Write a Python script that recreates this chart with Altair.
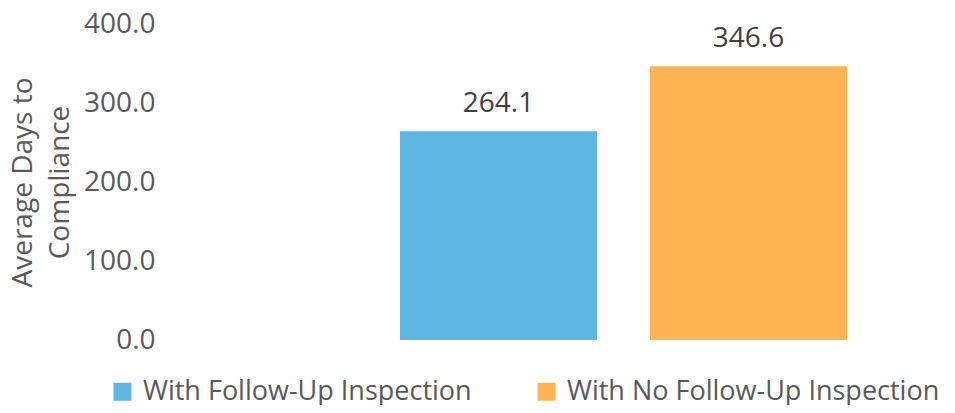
import altair as alt
import pandas as pd

categories = ["With Follow-Up Inspection", "With No Follow-Up Inspection"]
values = [264.1, 346.6]
colors = ["#5EB6E3", "#FFB453"]
y_ticks = [0, 100, 200, 300, 400]

df = pd.DataFrame({"cat": categories, "val": values})

FONT = "Open Sans"
GRAY = "#595959"

x_enc = alt.X("cat:N", axis=None, sort=categories,
              scale=alt.Scale(domain=categories, paddingInner=0.212,
                              paddingOuter=0.606, align=0.759))
y_enc = alt.Y("val:Q",
              scale=alt.Scale(domain=[0, 400], nice=False),
              axis=alt.Axis(values=y_ticks, format=".1f", grid=False, domain=False,
                            ticks=False, tickSize=0, labelPadding=15,
                            labelFont=FONT, labelFontSize=28, labelColor=GRAY,
                            title=["Average Days to", "Compliance"],
                            titleFont=FONT, titleFontSize=28, titleFontWeight="normal",
                            titleColor=GRAY, titleLineHeight=37, titleBaseline="middle",
                            titleAlign="center", titleX=-147, titleY=158))

bars = alt.Chart(df).mark_bar().encode(
    x=x_enc,
    y=y_enc,
    color=alt.Color("cat:N", scale=alt.Scale(domain=categories, range=colors),
                    legend=alt.Legend(orient="none", legendX=-61, legendY=354,
                                      direction="horizontal", columns=2, title=None,
                                      symbolType="square", symbolSize=324,
                                      symbolStrokeWidth=0, labelFont=FONT,
                                      labelFontSize=27, labelColor=GRAY,
                                      labelLimit=0, labelOffset=7,
                                      columnPadding=61, padding=0)),
)

labels = alt.Chart(df).mark_text(font=FONT, fontSize=28, color="#404040",
                                 baseline="alphabetic", dy=-19.5).encode(
    x=alt.X("cat:N", sort=categories),
    y=alt.Y("val:Q"),
    text=alt.Text("val:Q", format=".1f"),
)

chart = alt.layer(bars, labels).properties(
    width=750, height=316,
    padding={"left": 162, "top": 16, "right": 27, "bottom": 65},
    autosize=alt.AutoSizeParams(type="none"),
    background="white",
).configure_view(stroke=None)

chart.save("out.html", embed_options={"renderer": "svg", "actions": False})
